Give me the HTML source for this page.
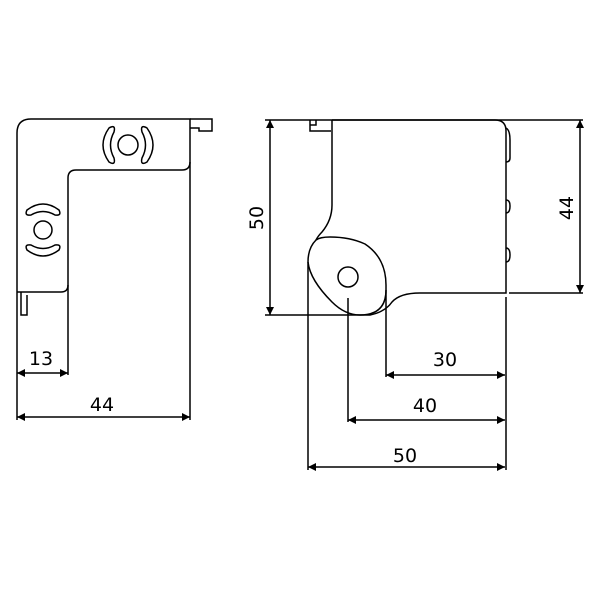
<!DOCTYPE html>
<html><head><style>body{margin:0;background:#fff}svg{display:block}</style></head><body>
<svg width="600" height="600" viewBox="0 0 600 600" xmlns="http://www.w3.org/2000/svg">
<defs>
<marker id="a" viewBox="0 0 10 10" refX="10" refY="5" markerWidth="14" markerHeight="8" markerUnits="userSpaceOnUse" orient="auto-start-reverse"><path d="M0,0L10,5L0,10z" fill="#000"/></marker>
</defs>
<g fill="none" stroke="#000" stroke-width="1.5">
<!-- left view -->
<path d="M17,420 V133 Q17,119 31,119 H190 V162 Q190,170 182,170 H76 Q68,170 68,178 V285 Q68,292 61,292 H17"/>
<path d="M190,119 H212 V131 H199 V128 H190"/>
<path d="M190,162 V420"/>
<path d="M68,285 V375"/>
<path d="M21,292 V315 H27 V295"/>
<circle cx="128" cy="145" r="10"/>
<path d="M109,128 Q97,145 109,162 Q116,166 114,158 Q107,145 114,132 Q116,124 109,128Z"/>
<path d="M147,128 Q159,145 147,162 Q140,166 142,158 Q149,145 142,132 Q140,124 147,128Z"/>
<circle cx="43" cy="230" r="9"/>
<path d="M27,210 Q43,198 59,210 Q62,216 55,215 Q43,208 31,215 Q24,216 27,210Z"/>
<path d="M27,250 Q43,262 59,250 Q62,244 55,245 Q43,252 31,245 Q24,244 27,250Z"/>
<!-- right view -->
<path d="M265,120 H583"/>
<path d="M332,120 V205 Q332,220 322,232 Q318,236 316,240"/>
<path d="M332,120 H495 Q506,120 506,131 V293 H420 Q400,293 392,302 Q385,312 370,315 H265"/>
<path d="M316,240 Q308,248 308,262 Q310,280 332,302 Q345,315 360,315 Q386,315 386,290 V285 Q386,258 365,244 Q350,237 330,237 Q320,237 316,240Z"/>
<path d="M310,120 V131 H331 M310,131 V125 H316 V120"/>
<path d="M506,128 Q510,130 510,140 V158 Q510,162 506,162 M506,200 Q510,200 510,206 Q510,213 506,213 M506,248 Q510,248 510,255 Q510,262 506,262"/>
<circle cx="348" cy="277" r="10"/>
<path d="M509,293 H583"/>
<path d="M308,262 V470 M348,298 V422 M386,290 V377 M506,297 V470"/>
<!-- dims -->
<g marker-start="url(#a)" marker-end="url(#a)">
<path d="M17,373 H68"/>
<path d="M17,417 H190"/>
<path d="M270,120 V315"/>
<path d="M580,120 V293"/>
<path d="M386,375 H505"/>
<path d="M348,420 H505"/>
<path d="M308,467 H505"/>
</g>
</g>
<g font-family="DejaVu Sans, sans-serif" font-size="19" text-anchor="middle" fill="#000">
<text x="41" y="365">13</text>
<text x="102" y="411">44</text>
<text x="445" y="366">30</text>
<text x="425" y="412">40</text>
<text x="405" y="462">50</text>
<text transform="translate(263,218) rotate(-90)">50</text>
<text transform="translate(573,208) rotate(-90)">44</text>
</g>
</svg>
</body></html>
